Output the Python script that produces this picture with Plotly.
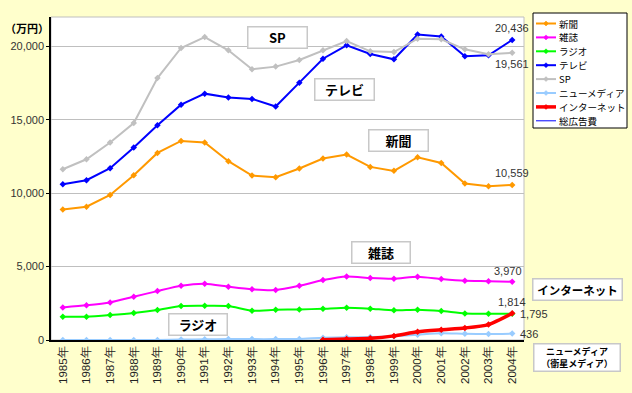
import plotly.graph_objects as go

years = ["1985年", "1986年", "1987年", "1988年", "1989年", "1990年", "1991年", "1992年", "1993年", "1994年",
         "1995年", "1996年", "1997年", "1998年", "1999年", "2000年", "2001年", "2002年", "2003年", "2004年"]

newspaper = [8887, 9080, 9882, 11220, 12740, 13560, 13450, 12180, 11200, 11090,
             11680, 12360, 12630, 11790, 11520, 12450, 12060, 10660, 10480, 10559]
magazine = [2220, 2360, 2560, 2950, 3330, 3690, 3830, 3630, 3450, 3400,
            3690, 4080, 4330, 4220, 4170, 4310, 4150, 4030, 4010, 3970]
radio = [1590, 1590, 1700, 1840, 2040, 2310, 2330, 2310, 1990, 2060,
         2080, 2130, 2200, 2130, 2020, 2060, 1970, 1810, 1790, 1795]
tv = [10610, 10880, 11700, 13110, 14630, 16030, 16780, 16510, 16420, 15900,
      17530, 19160, 20070, 19480, 19120, 20800, 20680, 19320, 19390, 20436]
sp = [11630, 12310, 13450, 14780, 17840, 19890, 20630, 19730, 18440, 18620,
      19070, 19730, 20360, 19660, 19610, 20520, 20480, 19800, 19460, 19561]
newmedia = [0, 0, 0, 0, 0, 30, 50, 60, 60, 60,
            70, 150, 180, 200, 260, 360, 460, 420, 410, 436]
internet = [None, None, None, None, None, None, None, None, None, None,
            None, 16, 60, 114, 280, 560, 700, 820, 1050, 1814]

series_names = ["新聞", "雑誌", "ラジオ", "テレビ", "SP", "ニューメディア", "インターネット", "総広告費"]
series_values = [newspaper, magazine, radio, tv, sp, newmedia, internet, None]
colors = ["#FF9900", "#FF00FF", "#00FF00", "#0000FF", "#C0C0C0", "#99CCFF", "#FF0000", "#0000FF"]
widths = [2, 2, 2, 2, 2, 2, 3.5, 1]
line_shapes = ["linear", "spline", "spline", "linear", "linear", "spline", "spline", "linear"]

JP = "Noto Sans CJK JP"
NUM = "Liberation Sans"

fig = go.Figure()
for i in range(7):
    fig.add_trace(go.Scatter(
        x=years, y=series_values[i], name=series_names[i],
        mode="lines+markers",
        line=dict(color=colors[i], width=widths[i], shape=line_shapes[i], smoothing=0.6),
        marker=dict(symbol="diamond", size=5, color=colors[i]),
        connectgaps=False, showlegend=False,
    ))

# plot area pixel geometry helper for annotation placement
L, R, T, B = 51, 524, 17, 340
def px(X):
    return (X - L) / (R - L)
def py(Y):
    return (B - Y) / (B - T)

ann = []
shapes = [dict(type="rect", xref="paper", yref="paper", x0=0, x1=1, y0=0, y1=1,
               line=dict(color="#BFBFBF", width=1), layer="below")]

box_labels = [("SP", 277, 37, 13, 56), ("テレビ", 344, 90, 13, 56), ("新聞", 398, 140, 13, 56),
              ("雑誌", 381, 252, 13, 55), ("ラジオ", 198, 324, 13, 55),
              ("インターネット", 577, 289, 11.5, 86)]
for txt, X, Y, fs, w in box_labels:
    ann.append(dict(x=px(X), y=py(Y), xref="paper", yref="paper", text="<b>" + txt + "</b>",
                    showarrow=False, font=dict(family=JP, size=fs, color="black"),
                    bgcolor="white", bordercolor="#C8C8C8", borderwidth=1.5, borderpad=1,
                    width=w, height=18, xanchor="center", yanchor="middle"))
ann.append(dict(x=px(577), y=py(357.5), xref="paper", yref="paper",
                text="<b>ニューメディア<br>（衛星メディア）</b>", showarrow=False,
                font=dict(family=JP, size=9, color="black"), bgcolor="white",
                bordercolor="#C8C8C8", borderwidth=1.5, borderpad=0, width=85, height=26,
                xanchor="center", yanchor="middle"))
ann.append(dict(x=px(27), y=py(28), xref="paper", yref="paper", text="<b>（万円）</b>",
                showarrow=False, font=dict(family=JP, size=11, color="black"),
                xanchor="center", yanchor="middle"))

last = years[-1]
val_labels = [(tv[-1], 0, 12, "center"), (sp[-1], 0, -11, "center"), (newspaper[-1], 0, 12, "center"),
              (magazine[-1], -4, 11, "center"), (internet[-1], 0, 11, "center"),
              (radio[-1], 6, 0, "left"), (newmedia[-1], 6, 0, "left")]
for v, xs, ys, xa in val_labels:
    ann.append(dict(x=last, y=v, xref="x", yref="y", text=f"{v:,}", showarrow=False,
                    xshift=xs, yshift=ys, xanchor=xa, yanchor="middle",
                    font=dict(family=NUM, size=11, color="#333333")))

# custom compact legend
shapes.append(dict(type="rect", xref="paper", yref="paper", x0=px(533), x1=px(627),
                   y0=py(128), y1=py(13), fillcolor="white", line=dict(color="black", width=1),
                   layer="above"))
for i, name in enumerate(series_names):
    Y = 23.5 + i * 13.9
    shapes.append(dict(type="line", xref="paper", yref="paper", x0=px(536), x1=px(556),
                       y0=py(Y), y1=py(Y), line=dict(color=colors[i], width=widths[i]),
                       layer="above"))
    if i < 7:
        cx, cy, d = 546, Y, 2.5
        path = (f"M {px(cx)},{py(cy - d)} L {px(cx + d)},{py(cy)} "
                f"L {px(cx)},{py(cy + d)} L {px(cx - d)},{py(cy)} Z")
        shapes.append(dict(type="path", xref="paper", yref="paper", path=path,
                           fillcolor=colors[i], line=dict(color=colors[i], width=0.5),
                           layer="above"))
    ann.append(dict(x=px(557), y=py(Y), xref="paper", yref="paper", text=name,
                    showarrow=False, xanchor="left", yanchor="middle",
                    font=dict(family=JP, size=9.5, color="black")))

fig.update_layout(
    width=632, height=393,
    margin=dict(l=L, r=632 - R, t=T, b=393 - B, pad=0, autoexpand=False),
    paper_bgcolor="#FFFFCC", plot_bgcolor="white",
    showlegend=False,
    annotations=ann,
    shapes=shapes,
)
fig.update_xaxes(type="category", range=[-0.5, 19.5], tickangle=-90,
                 tickfont=dict(family=NUM, size=11.5, color="#222222"),
                 showgrid=False, showline=True, linecolor="black", linewidth=1.5,
                 ticks="", zeroline=False, automargin=False)
fig.update_yaxes(range=[0, 22000], tickvals=[0, 5000, 10000, 15000, 20000], tickformat=",d",
                 tickfont=dict(family=NUM, size=11, color="#333333"),
                 showgrid=True, gridcolor="#BFBFBF", gridwidth=1,
                 showline=True, linecolor="black", linewidth=1.5, ticks="outside", ticklen=3,
                 tickcolor="black", zeroline=False, automargin=False)

fig.write_html("out.html", config={"displayModeBar": False},
               post_script="document.body.style.margin='0';")
